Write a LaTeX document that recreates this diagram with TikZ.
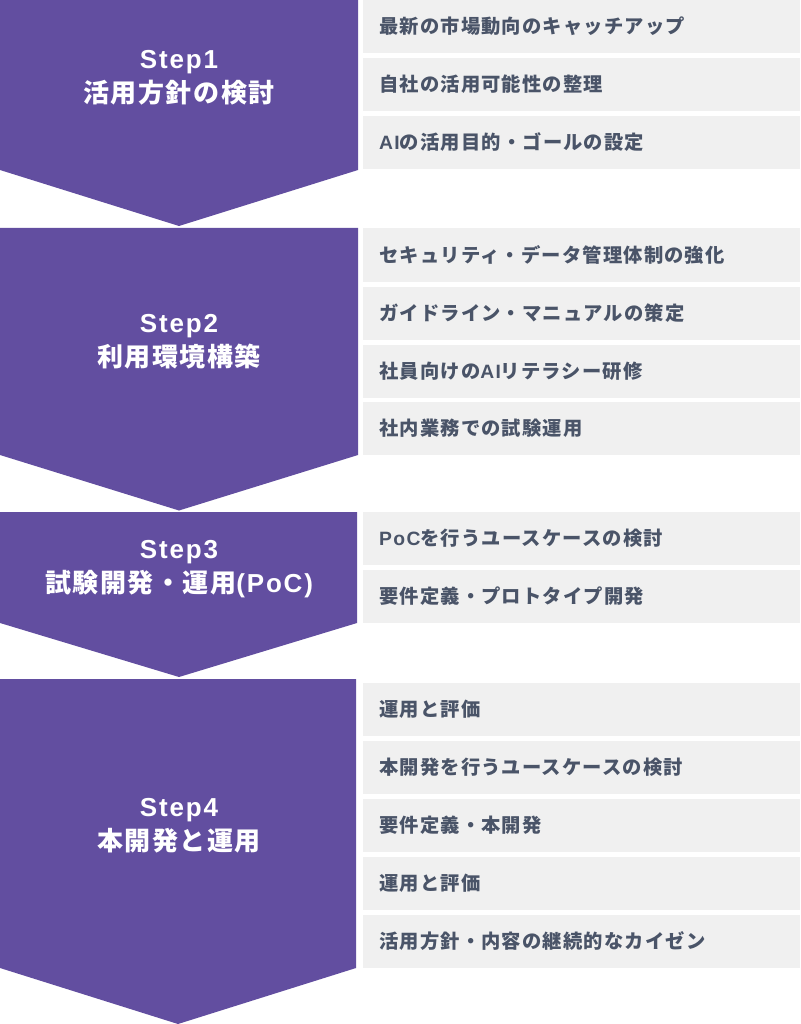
\documentclass[tikz,border=0pt]{standalone}
\usepackage{fontspec}
\usepackage{tikz}
\newfontfamily\jpfont[LetterSpace=6]{Noto Sans CJK JP}
\newfontfamily\latfont[LetterSpace=7]{Liberation Sans}
\newcommand\ltn[1]{{\latfont #1}}
\definecolor{stepviolet}{HTML}{624EA0}
\definecolor{itemgray}{HTML}{F0F0F0}
\definecolor{itemtext}{HTML}{4A5468}

\begin{document}
\begin{tikzpicture}[x=1pt,y=-1pt,
		stepshape/.style={fill=stepviolet},
		steptext/.style={text=white,align=center,font={\jpfont\bfseries\fontsize{26}{34}\selectfont}},
		itembox/.style={fill=itemgray,anchor=west,minimum height=53pt,text width=405pt,inner xsep=16pt,inner ysep=0pt,align=left,text=itemtext,font={\jpfont\bfseries\fontsize{19.3}{22}\selectfont}}]
			\useasboundingbox (0,0) rectangle (800,1024);
			% chevrons
			\fill[stepshape] (0,0) -- (358,0) -- (358,170) -- (179,226) -- (0,170) -- cycle;
			\fill[stepshape] (0,228) -- (358,228) -- (358,455) -- (179,510.5) -- (0,455) -- cycle;
			\fill[stepshape] (0,512) -- (357,512) -- (357,623) -- (179,677) -- (0,623) -- cycle;
			\fill[stepshape] (0,679) -- (356,679) -- (356,968) -- (178,1024) -- (0,968) -- cycle;
			\node[steptext] (step1) at (179,78) {\ltn{Step1}\\活用方針の検討};
			\node[steptext] (step2) at (179,342) {\ltn{Step2}\\利用環境構築};
			\node[steptext] (step3) at (179,569) {\ltn{Step3}\\試験開発・運用\ltn{(PoC)}};
			\node[steptext] (step4) at (179,826) {\ltn{Step4}\\本開発と運用};
			% step1
			\node[itembox] (s1a) at (363,26.5) {最新の市場動向のキャッチアップ};
			\node[itembox] (s1b) at (363,84.5) {自社の活用可能性の整理};
			\node[itembox] (s1c) at (363,142.5) {\ltn{AI}の活用目的・ゴールの設定};
			% step2
			\node[itembox] (s2a) at (363,255) {セキュリティ・データ管理体制の強化};
			\node[itembox] (s2b) at (363,313) {ガイドライン・マニュアルの策定};
			\node[itembox] (s2c) at (363,371) {社員向けの\ltn{AI}リテラシー研修};
			\node[itembox] (s2d) at (363,428) {社内業務での試験運用};
			% step3
			\node[itembox] (s3a) at (363,538) {\ltn{PoC}を行うユースケースの検討};
			\node[itembox] (s3b) at (363,596.5) {要件定義・プロトタイプ開発};
			% step4
			\node[itembox] (s4a) at (363,709.5) {運用と評価};
			\node[itembox] (s4b) at (363,767.5) {本開発を行うユースケースの検討};
			\node[itembox] (s4c) at (363,825.5) {要件定義・本開発};
			\node[itembox] (s4d) at (363,883.5) {運用と評価};
			\node[itembox] (s4e) at (363,941.5) {活用方針・内容の継続的なカイゼン};
		\end{tikzpicture}
\end{document}
